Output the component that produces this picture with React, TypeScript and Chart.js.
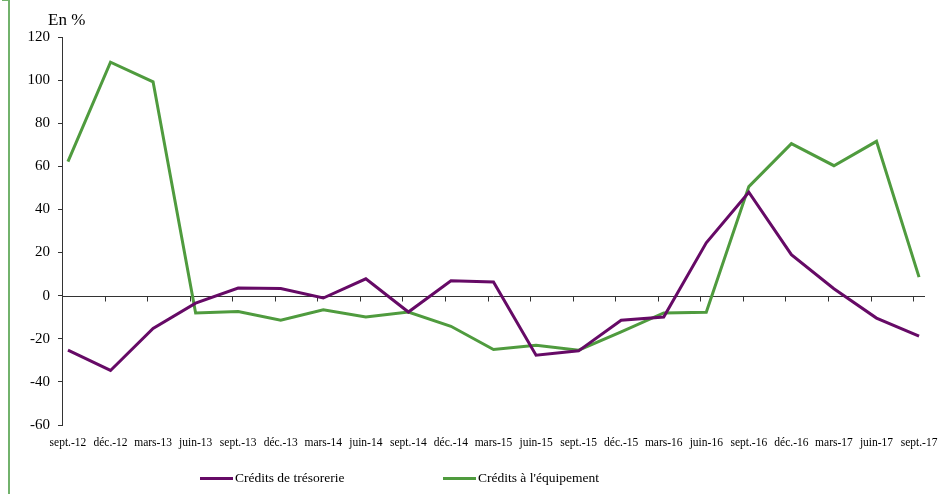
import React, { useEffect, useRef } from "react";
import { Chart, registerables } from "chart.js";

Chart.register(...registerables);

const categories = [
  "sept.-12", "déc.-12", "mars-13", "juin-13", "sept.-13", "déc.-13", "mars-14",
  "juin-14", "sept.-14", "déc.-14", "mars-15", "juin-15", "sept.-15", "déc.-15",
  "mars-16", "juin-16", "sept.-16", "déc.-16", "mars-17", "juin-17", "sept.-17",
];

const tresorerie = [
  -25.3, -34.7, -15.2, -3.5, 3.5, 3.3, -1.1, 7.8, -7.6, 6.9, 6.3,
  -27.6, -25.6, -11.4, -9.9, 24.5, 48, 19, 3.2, -10.4, -18.8,
];

const equipement = [
  62.2, 108.3, 99.2, -8, -7.4, -11.4, -6.5, -9.9, -7.6, -14.2, -25,
  -23, -25.3, -16.8, -8, -7.7, 50.6, 70.5, 60.3, 71.6, 8.6,
];

const yTicks = [-60, -40, -20, 0, 20, 40, 60, 80, 100, 120];

const seriesNames = ["Crédits de trésorerie", "Crédits à l'équipement"];
const PURPLE = "#660a66";
const GREEN = "#4f9b3e";
const FONT = '"Liberation Serif", "Times New Roman", serif';
const X_SHIFT = 0.14;

const zeroAxisPlugin = {
  id: "zeroAxis",
  beforeDatasetsDraw(chart: any) {
    const { ctx, chartArea, scales } = chart;
    const y = Math.round(scales.y.getPixelForValue(0)) + 0.5;
    ctx.save();
    ctx.strokeStyle = "#333";
    ctx.lineWidth = 1;
    ctx.beginPath();
    ctx.moveTo(chartArea.left, y);
    ctx.lineTo(chartArea.right, y);
    for (let k = 1; k < categories.length; k++) {
      const x = Math.round(scales.x.getPixelForValue(k - X_SHIFT)) + 0.5;
      ctx.moveTo(x, y);
      ctx.lineTo(x, y + 5);
    }
    ctx.stroke();
    ctx.restore();
  },
};

export default function App() {
  const ref = useRef<HTMLCanvasElement>(null);

  useEffect(() => {
    if (!ref.current) return;
    const chart = new Chart(ref.current, {
      type: "line",
      data: {
        datasets: [
          {
            label: seriesNames[0],
            data: tresorerie.map((v, i) => ({ x: i, y: v })),
            borderColor: PURPLE,
            backgroundColor: PURPLE,
            borderWidth: 3,
            pointRadius: 0,
            tension: 0,
          },
          {
            label: seriesNames[1],
            data: equipement.map((v, i) => ({ x: i, y: v })),
            borderColor: GREEN,
            backgroundColor: GREEN,
            borderWidth: 3,
            pointRadius: 0,
            tension: 0,
          },
        ],
      },
      options: {
        animation: false,
        responsive: false,
        layout: { padding: { top: 37, right: 19, bottom: 39, left: 0 } },
        plugins: {
          legend: { display: false },
          tooltip: { enabled: false },
        },
        scales: {
          x: {
            type: "linear",
            min: -X_SHIFT,
            max: categories.length - 1 + X_SHIFT,
            grid: { display: false },
            border: { display: false },
            afterBuildTicks: (scale: any) => {
              scale.ticks = categories.map((_, i) => ({ value: i }));
            },
            afterFit: (scale: any) => {
              scale.height = 30;
            },
            ticks: {
              autoSkip: false,
              maxRotation: 0,
              minRotation: 0,
              padding: 3,
              color: "#000",
              font: { family: FONT, size: 11.5 },
              callback: (v: any) => categories[Math.round(Number(v))] ?? "",
            },
          },
          y: {
            min: -60,
            max: 120,
            afterBuildTicks: (scale: any) => {
              scale.ticks = yTicks.map((v) => ({ value: v }));
            },
            afterFit: (scale: any) => {
              scale.width = 62;
            },
            grid: {
              drawOnChartArea: false,
              drawTicks: true,
              tickLength: 4,
              color: "#333",
            },
            border: { display: true, color: "#333", width: 1 },
            ticks: {
              padding: 8,
              color: "#000",
              font: { family: FONT, size: 15 },
            },
          },
        },
      },
      plugins: [zeroAxisPlugin],
    } as any);
    return () => chart.destroy();
  }, []);

  return (
    <div
      style={{
        position: "absolute",
        left: 0,
        top: 0,
        width: 944,
        height: 494,
        background: "#fff",
        fontFamily: FONT,
      }}
    >
      <canvas ref={ref} width={944} height={494} style={{ position: "absolute", left: 0, top: 0 }} />
      <div style={{ position: "absolute", left: 8, top: 0, width: 2, height: 494, background: "#72b26c" }} />
      <div style={{ position: "absolute", left: 2, top: 0, width: 7, height: 1, background: "#72b26c" }} />
      <div style={{ position: "absolute", left: 48, top: 10, fontSize: 17, lineHeight: "20px", color: "#000" }}>En %</div>
      {seriesNames.map((name, i) => (
        <div
          key={name}
          style={{
            position: "absolute",
            left: i === 0 ? 200 : 443,
            top: 469,
            height: 18,
            display: "flex",
            alignItems: "center",
            fontSize: 13.5,
            color: "#000",
            whiteSpace: "nowrap",
          }}
        >
          <span style={{ display: "inline-block", width: 33, height: 3, background: i === 0 ? PURPLE : GREEN, marginRight: 2 }} />
          {name}
        </div>
      ))}
    </div>
  );
}
